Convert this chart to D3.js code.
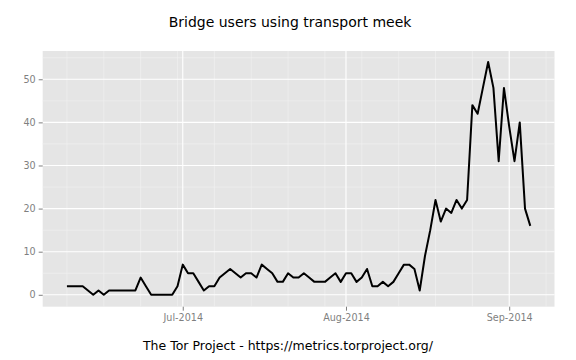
<!DOCTYPE html>
<html>
<head>
<meta charset="utf-8">
<script src="https://cdn.jsdelivr.net/npm/d3@7"></script>
<style>
  html, body { margin: 0; padding: 0; background: #ffffff; }
  svg { display: block; font-family: "DejaVu Sans", sans-serif; }
</style>
</head>
<body>
<svg id="chart" width="576" height="360"></svg>
<script>
// ---- data ----
const title = "Bridge users using transport meek";
const xAxisTitle = "The Tor Project - https://metrics.torproject.org/";
const firstDate = "2014-06-09";
const users = [
  // June 9 - June 30
  2, 2, 2, 2, 1, 0, 1, 0, 1, 1, 1, 1, 1, 1, 4, 2, 0, 0, 0, 0, 0, 2,
  // July 1 - July 31
  7, 5, 5, 3, 1, 2, 2, 4, 5, 6, 5, 4, 5, 5, 4, 7, 6, 5, 3, 3, 5, 4, 4, 5, 4, 3, 3, 3, 4, 5, 3,
  // Aug 1 - Aug 31
  5, 5, 3, 4, 6, 2, 2, 3, 2, 3, 5, 7, 7, 6, 1, 9, 15, 22, 17, 20, 19, 22, 20, 22, 44, 42, 48, 54, 48, 31, 48,
  // Sep 1 - Sep 5
  39, 31, 40, 20, 16
];
const rangeStart = "2014-06-08";
const rangeEnd = "2014-09-06";
const xTickDates = ["2014-07-01", "2014-08-01", "2014-09-01"];
const xTickLabels = ["Jul-2014", "Aug-2014", "Sep-2014"];
const yTicks = [0, 10, 20, 30, 40, 50];
const yMinor = [5, 15, 25, 35, 45, 55];
const yDomain = [-2.76, 56.56];

// ---- layout ----
const W = 576, H = 360;
const panel = { left: 42.7, right: 554.5, top: 51, bottom: 306.7 };

const parse = d3.utcParse("%Y-%m-%d");
const start = parse(firstDate);
const data = users.map((v, i) => ({ date: d3.utcDay.offset(start, i), value: v }));

const r0 = parse(rangeStart), r1 = parse(rangeEnd);
const span = r1 - r0;
const x = d3.scaleUtc()
  .domain([new Date(+r0 - 0.04 * span), new Date(+r1 + 0.04 * span)])
  .range([panel.left, panel.right]);
const y = d3.scaleLinear().domain(yDomain).range([panel.bottom, panel.top]);

const svg = d3.select("#chart");

// panel background
svg.append("rect")
  .attr("x", panel.left).attr("y", panel.top)
  .attr("width", panel.right - panel.left).attr("height", panel.bottom - panel.top)
  .attr("fill", "#e5e5e5");

// minor grid
const minorX = d3.utcMonday.range(x.domain()[0], x.domain()[1]);
svg.append("g").selectAll("line").data(minorX).join("line")
  .attr("x1", d => x(d)).attr("x2", d => x(d))
  .attr("y1", panel.top).attr("y2", panel.bottom)
  .attr("stroke", "#f2f2f2").attr("stroke-width", 0.6);
svg.append("g").selectAll("line").data(yMinor).join("line")
  .attr("x1", panel.left).attr("x2", panel.right)
  .attr("y1", d => y(d)).attr("y2", d => y(d))
  .attr("stroke", "#f2f2f2").attr("stroke-width", 0.6);

// major grid
const majorX = xTickDates.map(parse);
svg.append("g").selectAll("line").data(majorX).join("line")
  .attr("x1", d => x(d)).attr("x2", d => x(d))
  .attr("y1", panel.top).attr("y2", panel.bottom)
  .attr("stroke", "#ffffff").attr("stroke-width", 1.1);
svg.append("g").selectAll("line").data(yTicks).join("line")
  .attr("x1", panel.left).attr("x2", panel.right)
  .attr("y1", d => y(d)).attr("y2", d => y(d))
  .attr("stroke", "#ffffff").attr("stroke-width", 1.1);

// axes
const xAxis = d3.axisBottom(x)
  .tickValues(majorX)
  .tickFormat((d, i) => xTickLabels[i])
  .tickSize(4).tickPadding(3);
const gx = svg.append("g").attr("transform", `translate(0,${panel.bottom})`).call(xAxis);
gx.select(".domain").remove();
gx.selectAll(".tick line").attr("stroke", "#7f7f7f");
gx.selectAll(".tick text").attr("fill", "#7f7f7f").attr("font-size", "9.6px")
  .attr("font-family", "DejaVu Sans, sans-serif");

const yAxis = d3.axisLeft(y).tickValues(yTicks).tickSize(4).tickPadding(3);
const gy = svg.append("g").attr("transform", `translate(${panel.left},0)`).call(yAxis);
gy.select(".domain").remove();
gy.selectAll(".tick line").attr("stroke", "#7f7f7f");
gy.selectAll(".tick text").attr("fill", "#7f7f7f").attr("font-size", "9.6px")
  .attr("font-family", "DejaVu Sans, sans-serif");

// line
const line = d3.line().x(d => x(d.date)).y(d => y(d.value));
svg.append("path").datum(data)
  .attr("d", line)
  .attr("fill", "none")
  .attr("stroke", "#000000")
  .attr("stroke-width", 2)
  .attr("stroke-linejoin", "round");

// titles
svg.append("text")
  .attr("x", 290).attr("y", 27)
  .attr("text-anchor", "middle")
  .attr("font-size", "14px")
  .attr("fill", "#000")
  .text(title);

svg.append("text")
  .attr("x", 288).attr("y", 349.5)
  .attr("text-anchor", "middle")
  .attr("font-size", "12.5px")
  .attr("fill", "#000")
  .text(xAxisTitle);
</script>
</body>
</html>
